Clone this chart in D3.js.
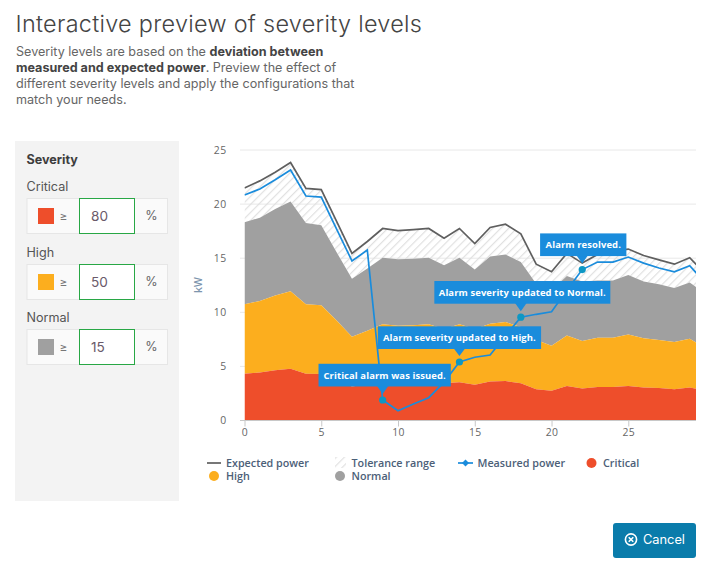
<!DOCTYPE html>
<html><head><meta charset="utf-8">
<script src="https://cdn.jsdelivr.net/npm/d3@7"></script>
<style>
html,body{margin:0;padding:0;background:#fff;overflow:hidden}
svg{display:block}
.ui{font-family:Inter,sans-serif}
.ch{font-family:"Open Sans",sans-serif}
</style></head><body>
<svg id="c" width="708" height="565"></svg>
<script>
const xs = d3.range(0, 31);
const expected = [21.44,22.1,22.9,23.8,21.4,21.3,18.35,15.4,16.5,17.7,17.5,17.6,17.7,16.8,17.7,16.3,17.8,18.1,17.2,14.4,13.7,15.4,14.5,15.3,15.6,15.8,15.2,14.8,14.4,15.0,13.5];
const measured = [20.8,21.35,22.2,23.1,20.7,20.6,17.65,14.7,15.7,1.85,0.86,1.48,2.06,3.5,5.36,5.8,6.0,7.8,9.5,9.77,10.0,12.0,13.9,14.6,14.6,15.06,14.5,14.05,13.7,14.26,12.7];
const normalTop = [18.27,18.7,19.5,20.2,18.2,18.0,15.5,13.06,14.0,15.0,14.85,14.9,15.0,14.3,15.0,13.9,15.1,15.3,14.6,12.6,12.0,13.3,12.8,12.9,12.9,13.4,12.8,12.55,12.2,12.7,11.7];
const highTop = [10.7,11.0,11.5,11.9,10.7,10.6,9.2,7.7,8.25,8.85,8.7,8.75,8.85,8.4,8.85,8.4,8.9,9.05,8.6,7.4,6.87,7.8,7.3,7.6,7.6,7.9,7.55,7.4,7.2,7.5,6.7];
const criticalTop = [4.28,4.4,4.6,4.74,4.28,4.25,3.7,3.1,3.3,3.45,3.5,3.5,3.5,3.4,3.5,3.25,3.55,3.6,3.4,2.85,2.7,3.14,2.9,3.05,3.05,3.14,3.0,2.95,2.85,3.0,2.7];
const xTicks = [0,5,10,15,20,25];
const yTicks = [0,5,10,15,20,25];
const callouts = [
  {x:9, text:"Critical alarm was issued."},
  {x:14, text:"Alarm severity updated to High."},
  {x:18, text:"Alarm severity updated to Normal."},
  {x:22, text:"Alarm resolved."}
];
const severities = [
  {name:"Critical", value:"80", color:"#ee4e2b"},
  {name:"High", value:"50", color:"#fcae1e"},
  {name:"Normal", value:"15", color:"#a0a0a0"}
];
const descLines = [
  [["Severity levels are based on the ",400],["deviation between",700]],
  [["measured and expected power",700],[". Preview the effect of",400]],
  [["different severity levels and apply the configurations that",400]],
  [["match your needs.",400]]
];

const svg = d3.select("#c");
const defs = svg.append("defs");
const hatch = defs.append("pattern").attr("id","hatch").attr("patternUnits","userSpaceOnUse")
  .attr("width",5.7).attr("height",5.7).attr("patternTransform","rotate(-45)");
hatch.append("rect").attr("width",5.7).attr("height",1.1).attr("y",2).attr("fill","#dedede");
defs.append("clipPath").attr("id","plot").append("rect").attr("x",244.5).attr("y",140).attr("width",451.5).attr("height",280);

// heading
svg.append("text").attr("class","ui").attr("x",15.5).attr("y",32).attr("font-size",23.4).attr("font-weight",300)
  .attr("fill","#444").attr("letter-spacing",0.3).text("Interactive preview of severity levels");
descLines.forEach((l,i)=>{
  const t = svg.append("text").attr("class","ui").attr("x",16).attr("y",55.8+i*16.1).attr("font-size",12.6).attr("fill","#5a5a5a");
  l.forEach(s=>t.append("tspan").attr("font-weight",s[1]).attr("fill",s[1]===700?"#444":"#666").text(s[0]));
});

// severity panel
svg.append("rect").attr("x",15).attr("y",141).attr("width",164).attr("height",360).attr("fill","#f3f3f3");
svg.append("text").attr("class","ui").attr("x",26.5).attr("y",164).attr("font-size",12.6).attr("font-weight",700).attr("fill","#3d3d3d").text("Severity");
const rowY = [198,264,329], labY=[191,257,322];
severities.forEach((s,i)=>{
  const y=rowY[i];
  const g=svg.append("g");
  g.append("text").attr("class","ui").attr("x",26.5).attr("y",labY[i]).attr("font-size",12.6).attr("fill","#555").text(s.name);
  g.append("rect").attr("x",27).attr("y",y+.5).attr("width",140.5).attr("height",35).attr("fill","#fafafa").attr("stroke","#e6e6e6");
  g.append("rect").attr("x",38).attr("y",y+10).attr("width",16).attr("height",16).attr("fill",s.color);
  g.append("text").attr("class","ui").attr("x",63.5).attr("y",y+22).attr("font-size",12).attr("text-anchor","middle").attr("fill","#777").text("≥");
  g.append("rect").attr("x",79.5).attr("y",y+.5).attr("width",55).attr("height",35).attr("fill","#fff").attr("stroke","#28a745");
  g.append("text").attr("class","ui").attr("x",91).attr("y",y+22.5).attr("font-size",13.6).attr("fill","#6a5a6a").text(s.value);
  g.append("text").attr("class","ui").attr("x",151.5).attr("y",y+22).attr("font-size",12.6).attr("text-anchor","middle").attr("fill","#666").text("%");
});

// scales
const x = d3.scaleLinear().domain([0,29.41]).range([244.5,696]);
const y = d3.scaleLinear().domain([0,25]).range([420,149.5]);

// grid
svg.append("g").selectAll("line").data(yTicks.slice(1)).join("line")
  .attr("x1",240).attr("x2",696).attr("y1",d=>y(d)+.5).attr("y2",d=>y(d)+.5).attr("stroke","#e8e8e8").attr("stroke-width",1);

const plot = svg.append("g").attr("clip-path","url(#plot)");
const area = (lo,hi)=>d3.area().x(d=>x(d)).y0(d=>y(lo?lo[d]:0)).y1(d=>y(hi[d]));
plot.append("path").datum(xs).attr("fill","url(#hatch)").attr("d",area(normalTop,expected));
plot.append("path").datum(xs).attr("fill","#a0a0a0").attr("d",area(highTop,normalTop));
plot.append("path").datum(xs).attr("fill","#fcae1e").attr("d",area(criticalTop,highTop));
plot.append("path").datum(xs).attr("fill","#ee4e2b").attr("d",area(null,criticalTop));
const line = arr=>d3.line().x(d=>x(d)).y(d=>y(arr[d]));
plot.append("path").datum(xs).attr("fill","none").attr("stroke","#5f5f5f").attr("stroke-width",1.7).attr("d",line(expected));
plot.append("path").datum(xs).attr("fill","none").attr("stroke","#1a8cdc").attr("stroke-width",1.7).attr("d",line(measured));

// axes
const ax = svg.append("g").attr("class","ch").attr("transform","translate(0,420.5)")
  .call(d3.axisBottom(x).tickValues(xTicks).tickSize(6).tickPadding(2));
ax.select(".domain").attr("stroke","#c8c8c8").attr("stroke-width",1).attr("d","M240,0H696");
ax.selectAll(".tick line").attr("stroke","#c8c8c8");
ax.selectAll("text").attr("fill","#666").attr("font-size",10.4).attr("font-family","'Open Sans',sans-serif").attr("letter-spacing",0.4);
const ay = svg.append("g").attr("class","ch").attr("transform","translate(244.5,0.5)")
  .call(d3.axisLeft(y).tickValues(yTicks).tickSize(0).tickPadding(18));
ay.select(".domain").remove();
ay.selectAll(".tick line").remove();
ay.selectAll("text").attr("fill","#666").attr("font-size",10.4).attr("font-family","'Open Sans',sans-serif").attr("letter-spacing",0.4).attr("dy","0.32em");
svg.append("text").attr("class","ch").attr("transform","translate(201.5,285) rotate(-90)").attr("text-anchor","middle")
  .attr("font-size",10.4).attr("font-weight",600).attr("fill","#7d95ad").text("kW");

// callouts
const boxW = [132.3,163.3,176,86.3], boxH=22.7, gapUp=[13.5,13,13.5,13.5], dxBox=[2,0,1.5,1];
callouts.forEach((c,i)=>{
  const px=x(c.x), py=y(measured[c.x]);
  const g=svg.append("g");
  const bot=py-gapUp[i]; const top=bot-boxH; const cx=px+dxBox[i];
  g.append("path").attr("d",`M${px-6},${bot-1}L${px},${py-6}L${px+6},${bot-1}Z`).attr("fill","#1a8cdc");
  g.append("rect").attr("x",cx-boxW[i]/2).attr("y",top).attr("width",boxW[i]).attr("height",boxH).attr("fill","#1a8cdc");
  g.append("text").attr("class","ch").attr("x",cx).attr("y",top+15).attr("text-anchor","middle")
    .attr("font-size",9.44).attr("font-weight",700).attr("fill","#fff").attr("letter-spacing",0.1).text(c.text);
  g.append("circle").attr("cx",px).attr("cy",py).attr("r",3.6).attr("fill","#0d97c4");
});

// legend
const lg=svg.append("g").attr("class","ch");
const ltxt=(x0,y0,t)=>lg.append("text").attr("x",x0).attr("y",y0).attr("font-size",10.75).attr("font-weight",600).attr("fill","#4c6078").text(t);
lg.append("line").attr("x1",207).attr("x2",221).attr("y1",463).attr("y2",463).attr("stroke","#5f5f5f").attr("stroke-width",1.7);
ltxt(226,467,"Expected power");
lg.append("rect").attr("x",335).attr("y",457).attr("width",11).attr("height",11).attr("fill","url(#hatch)");
ltxt(351.5,467,"Tolerance range");
lg.append("line").attr("x1",458).attr("x2",473).attr("y1",463).attr("y2",463).attr("stroke","#1a8cdc").attr("stroke-width",1.7);
lg.append("path").attr("d","M465.5,459.5L469,463L465.5,466.5L462,463Z").attr("fill","#1a8cdc");
ltxt(477.5,467,"Measured power");
lg.append("circle").attr("cx",591.5).attr("cy",463).attr("r",5).attr("fill","#ee4e2b");
ltxt(603,467,"Critical");
lg.append("circle").attr("cx",214).attr("cy",476).attr("r",5).attr("fill","#fcae1e");
ltxt(226,480.3,"High");
lg.append("circle").attr("cx",340).attr("cy",476).attr("r",5).attr("fill","#a0a0a0");
ltxt(351.5,480.3,"Normal");

// cancel button
const b=svg.append("g");
b.append("rect").attr("x",613).attr("y",523).attr("width",83).attr("height",35).attr("rx",3).attr("fill","#0a7cab");
b.append("circle").attr("cx",631).attr("cy",539.5).attr("r",5.6).attr("fill","none").attr("stroke","#fff").attr("stroke-width",1.6);
b.append("path").attr("d","M628.7,537.2L633.3,541.8M633.3,537.2L628.7,541.8").attr("stroke","#fff").attr("stroke-width",1.6);
b.append("text").attr("class","ui").attr("x",643).attr("y",544).attr("font-size",12.8).attr("fill","#fff").text("Cancel");
</script>
</body></html>
